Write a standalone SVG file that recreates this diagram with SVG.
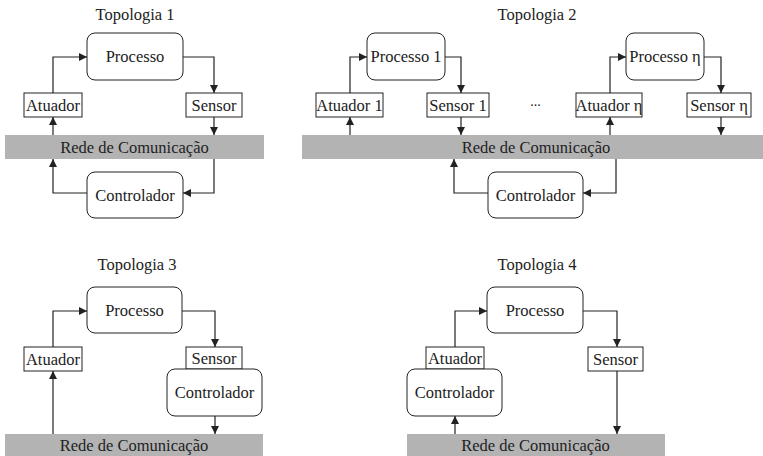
<svg xmlns="http://www.w3.org/2000/svg" width="763" height="456" viewBox="0 0 763 456">
<style>
text{font-size:16.5px;fill:#222;text-anchor:middle}
.box{fill:#fff;stroke:#222;stroke-width:1}
.band{fill:#b3b3b3;stroke:none}
.c path{fill:none;stroke:#222;stroke-width:1.2;marker-end:url(#ah)}
.f1 text{font-family:'Liberation Serif'}
.f2 text{font-family:serif}
.f3 text{font-family:"Liberation Serif"}
.f4 text{font-family:Liberation Serif}
</style>
<defs>
<marker id="ah" markerUnits="userSpaceOnUse" markerWidth="9" markerHeight="9" refX="8" refY="4" orient="auto">
<path d="M0,0 L8,4 L0,8 z" fill="#222"/>
</marker>
</defs>
<rect width="763" height="456" fill="#fff"/>
<g class="f1">
<text id="t1-title" x="135" y="20">Topologia 1</text>
<g id="t1-rede"><rect class="band" x="5" y="135" width="259" height="24"/><text x="134.5" y="153">Rede de Comunicação</text></g>
<g id="t1-processo"><rect class="box" x="87" y="33" width="96" height="47" rx="8"/><text x="135" y="62">Processo</text></g>
<g id="t1-atuador"><rect class="box" x="24" y="93" width="58" height="24"/><text x="53" y="111">Atuador</text></g>
<g id="t1-sensor"><rect class="box" x="186" y="93" width="56" height="24"/><text x="214" y="111">Sensor</text></g>
<g id="t1-controlador"><rect class="box" x="87" y="172" width="96" height="46" rx="8"/><text x="135" y="201">Controlador</text></g>
</g>
<g class="f2">
<text id="t2-title" x="537" y="20">Topologia 2</text>
<g id="t2-rede"><rect class="band" x="302" y="135" width="461" height="24"/><text x="536" y="153">Rede de Comunicação</text></g>
<g id="t2-processo1"><rect class="box" x="367" y="33" width="78" height="47" rx="8"/><text x="406" y="62">Processo 1</text></g>
<g id="t2-processon"><rect class="box" x="626" y="33" width="78" height="47" rx="8"/><text x="665" y="62">Processo η</text></g>
<g id="t2-atuador1"><rect class="box" x="316" y="93" width="67" height="24"/><text x="349.5" y="111">Atuador 1</text></g>
<g id="t2-sensor1"><rect class="box" x="427" y="93" width="62" height="24"/><text x="458" y="111">Sensor 1</text></g>
<g id="t2-atuadorn"><rect class="box" x="576" y="93" width="66" height="24"/><text x="609" y="111">Atuador η</text></g>
<g id="t2-sensorn"><rect class="box" x="687" y="93" width="64" height="24"/><text x="719" y="111">Sensor η</text></g>
<text id="t2-dots" x="535.5" y="106" style="font-size:14px">...</text>
<g id="t2-controlador"><rect class="box" x="488" y="172" width="95" height="46" rx="8"/><text x="535.5" y="201">Controlador</text></g>
</g>
<g class="f3">
<text id="t3-title" x="137" y="270">Topologia 3</text>
<g id="t3-rede"><rect class="band" x="5" y="434" width="258" height="22"/><text x="134" y="451">Rede de Comunicação</text></g>
<g id="t3-processo"><rect class="box" x="87" y="287" width="95" height="46" rx="8"/><text x="134.5" y="316">Processo</text></g>
<g id="t3-atuador"><rect class="box" x="24" y="347" width="58" height="24"/><text x="53" y="365">Atuador</text></g>
<g id="t3-sensor"><rect class="box" x="186" y="347" width="56" height="22"/><text x="214" y="364">Sensor</text></g>
<g id="t3-controlador"><rect class="box" x="167" y="369" width="95" height="47" rx="8"/><text x="214.5" y="398">Controlador</text></g>
</g>
<g class="f4">
<text id="t4-title" x="537" y="270">Topologia 4</text>
<g id="t4-rede"><rect class="band" x="407" y="434" width="258" height="22"/><text x="535.5" y="451">Rede de Comunicação</text></g>
<g id="t4-processo"><rect class="box" x="487" y="287" width="96" height="46" rx="8"/><text x="535" y="316">Processo</text></g>
<g id="t4-atuador"><rect class="box" x="426" y="347" width="58" height="22"/><text x="455" y="364">Atuador</text></g>
<g id="t4-sensor"><rect class="box" x="588" y="347" width="55" height="24"/><text x="615.5" y="365">Sensor</text></g>
<g id="t4-controlador"><rect class="box" x="407" y="369" width="95" height="47" rx="8"/><text x="454.5" y="398">Controlador</text></g>
</g>
<g id="connectors" class="c">
<path d="M53,135 L53,117"/>
<path d="M53,93 L53,57 L87,57"/>
<path d="M183,57 L214,57 L214,93"/>
<path d="M214,117 L214,135"/>
<path d="M214,159 L214,193 L183,193"/>
<path d="M87,193 L53,193 L53,159"/>
<path d="M350,135 L350,117"/>
<path d="M350,93 L350,57 L367,57"/>
<path d="M445,57 L461,57 L461,93"/>
<path d="M461,117 L461,135"/>
<path d="M610,135 L610,117"/>
<path d="M610,93 L610,57 L626,57"/>
<path d="M704,57 L721,57 L721,93"/>
<path d="M721,117 L721,135"/>
<path d="M488,193 L454,193 L454,159"/>
<path d="M616,159 L616,193 L583,193"/>
<path d="M53,434 L53,371"/>
<path d="M53,347 L53,311 L87,311"/>
<path d="M182,311 L215,311 L215,347"/>
<path d="M215,416 L215,434"/>
<path d="M455,347 L455,311 L487,311"/>
<path d="M583,311 L617,311 L617,347"/>
<path d="M617,371 L617,434"/>
<path d="M455,434 L455,416"/>
</g>
</svg>
